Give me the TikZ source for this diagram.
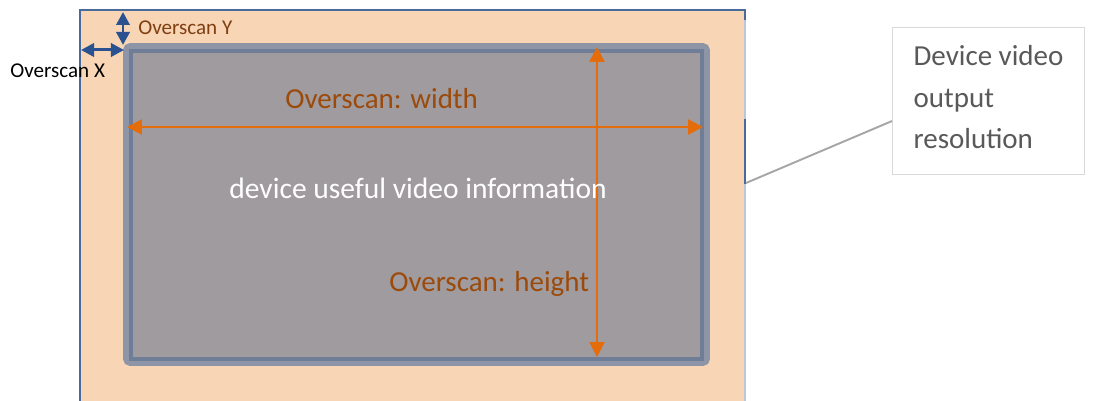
\documentclass[tikz,border=0pt]{standalone}
\usepackage{fontspec}
\setmainfont{Carlito}
\usepackage{xcolor}
\usetikzlibrary{arrows.meta, positioning}

\definecolor{peach}{HTML}{F7D5B5}
\definecolor{screengray}{HTML}{A09B9F}
\definecolor{screenedge}{HTML}{6F7E96}
\definecolor{screenglow}{HTML}{8E95A7}
\definecolor{frameblue}{HTML}{4A6A9C}
\definecolor{framelight}{HTML}{BAC6DA}
\definecolor{arrorange}{HTML}{E46C0A}
\definecolor{lblbrown}{HTML}{9C4A0A}
\definecolor{ybrown}{HTML}{7F3F12}
\definecolor{scanblue}{HTML}{2A5291}

\begin{document}
\begin{tikzpicture}[x=0.02cm, y=-0.02cm,
  big/.style={font=\fontsize{16.5}{23.6}\selectfont, inner sep=0pt, anchor=base west},
  small/.style={font=\fontsize{12}{14}\selectfont, inner sep=0pt, anchor=base west},
  sizearrow/.style={draw=arrorange, line width=1.4pt,
    {Triangle[width=8.5pt,length=8.5pt]}-{Triangle[width=8.5pt,length=8.5pt]}},
  scanarrow/.style={draw=scanblue, line width=1.7pt,
    {Triangle[width=7.5pt,length=7.4pt]}-{Triangle[width=7.5pt,length=7.4pt]}},
  callout/.style={draw=black!15, fill=white, line width=0.6pt, align=left,
    font=\fontsize{16.5}{23.6}\selectfont, text=black!65,
    minimum width=3.84cm, minimum height=2.94cm, inner sep=0pt, anchor=north west},
  leader/.style={draw=black!35, line width=1.1pt}
]
  \useasboundingbox (0,0) rectangle (1093,401);

  % Output frame (overscan area)
  \fill[peach] (80,10) rectangle (745,401);
  \draw[framelight, line width=0.9pt] (745,10) -- (745,401);
  \draw[frameblue, line width=0.9pt] (80,401) -- (80,10) -- (745,10) -- (745,20);
  \draw[frameblue, line width=0.9pt] (745,119) -- (745,184);

  % Useful picture area
  \draw[screenglow, line width=4.5pt, rounded corners=2pt] (127,47) rectangle (706,362);
  \draw[screenedge, fill=screengray, line width=2.6pt] (131,51) rectangle (702,359);

  % Size arrows
  \coordinate (wL) at (127,127);
  \coordinate (wR) at (703,127);
  \coordinate (hT) at (597,47);
  \coordinate (hB) at (597,357);
  \draw[sizearrow] (wL) -- (wR);
  \draw[sizearrow] (hT) -- (hB);

  % Overscan offsets
  \coordinate (xL) at (81,50);
  \coordinate (xR) at (124,50);
  \coordinate (yT) at (123,12);
  \coordinate (yB) at (123,45);
  \draw[scanarrow] (xL) -- (xR);
  \draw[scanarrow] (yT) -- (yB);

  % Labels
  \node[big, text=lblbrown] (lblW) at (285,109) {Overscan: width};
  \node[big, text=white, font=\fontsize{16.8}{23.6}\selectfont] (lblInfo) at (229,199) {device useful video information};
  \node[big, text=lblbrown] (lblH) at (389,292) {Overscan: height};
  \node[small, text=ybrown] (lblY) at (138,35) {Overscan Y};
  \node[small, text=black] (lblX) at (10,78) {Overscan X};

  % Callout
  \node[callout] (res) at (892,27) {Device video\\output\\resolution\rule[-4.5pt]{0pt}{4.5pt}};
  \coordinate (frameR) at (746,183);
  \draw[leader] ([yshift=1.08cm]res.south west) -- (frameR);
\end{tikzpicture}
\end{document}
